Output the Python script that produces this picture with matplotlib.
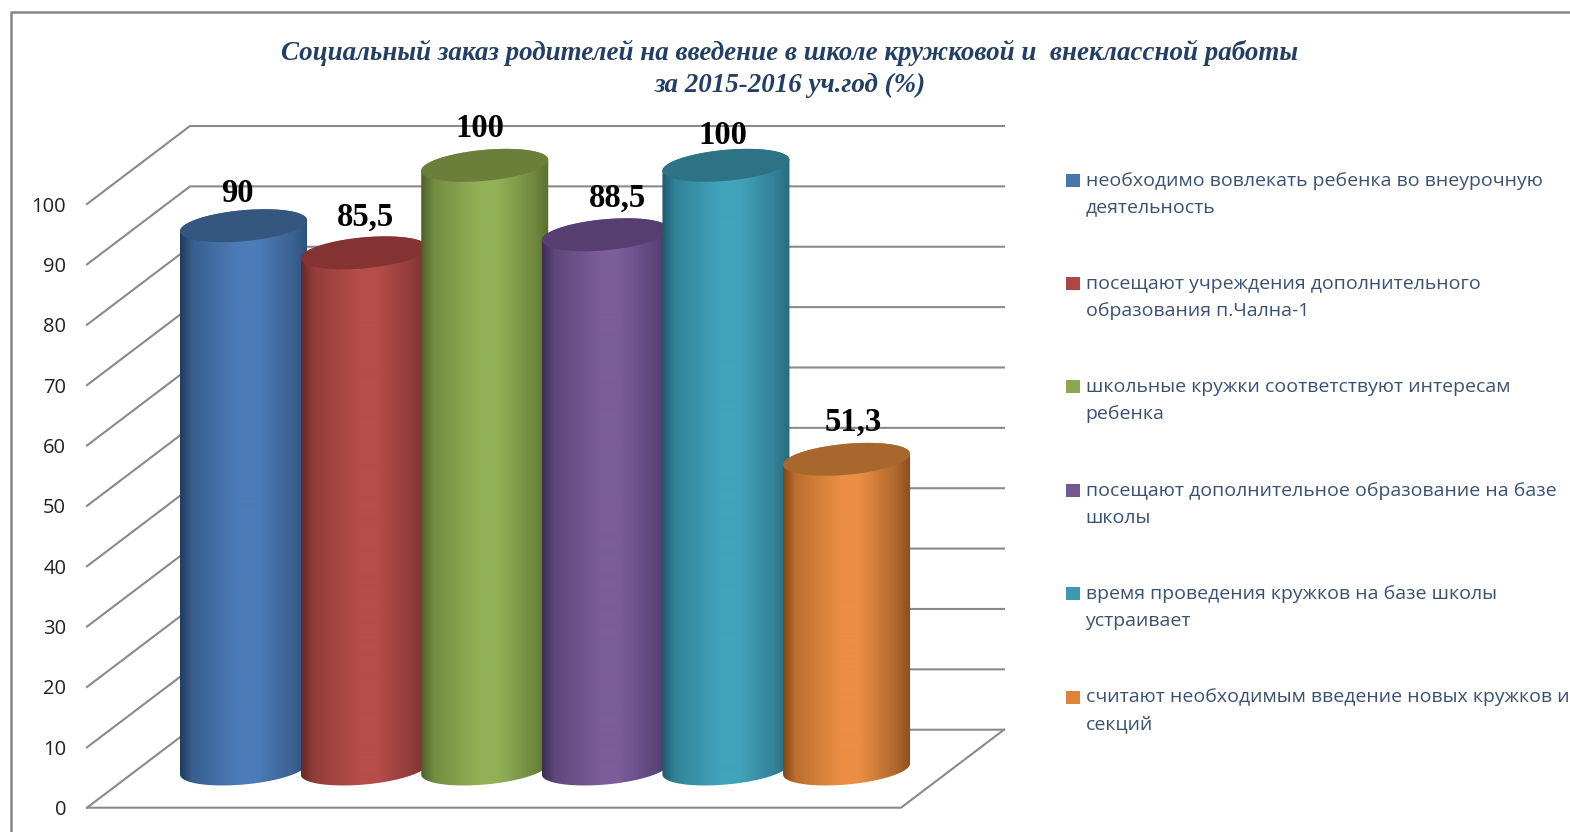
# -*- coding: utf-8 -*-
import matplotlib
matplotlib.use("Agg")
import matplotlib.pyplot as plt
import numpy as np
from matplotlib.colors import LinearSegmentedColormap, to_rgb
from matplotlib.patches import Polygon, Rectangle

title_lines = ["Социальный заказ родителей на введение в школе кружковой и  внеклассной работы",
               "за 2015-2016 уч.год (%)"]
categories = ["необходимо вовлекать ребенка во внеурочную\nдеятельность",
              "посещают учреждения дополнительного\nобразования п.Чална-1",
              "школьные кружки соответствуют интересам\nребенка",
              "посещают дополнительное образование на базе\nшколы",
              "время проведения кружков на базе школы\nустраивает",
              "считают необходимым введение новых кружков и\nсекций"]
values = [90, 85.5, 100, 88.5, 100, 51.3]
y_ticks = [0, 10, 20, 30, 40, 50, 60, 70, 80, 90, 100]

# left edge / middle / right edge / top cap / legend
dark_left = ["#1f3c60", "#682826", "#4d6127", "#3b2c55", "#1d5a6c", "#854816"]
mid = ["#4c7cb8", "#b54d4a", "#92b157", "#7b5d99", "#42a3bc", "#ea8f43"]
dark_right = ["#2f507a", "#75302e", "#5a6f2e", "#4a3767", "#286b7f", "#8a4d20"]
top_cap = ["#34567f", "#843332", "#6b7f3a", "#563f70", "#2e7286", "#a8682d"]
legend_colors = ["#4a76ae", "#ae4744", "#8aa84f", "#74588f", "#3f98b1", "#de8438"]

# hand placed data labels, offset from cap centre in px
label_dx = [-6.5, 1, -5, 12, -3, 6.5]
label_dy = [32, 35.5, 37, 36.5, 29.5, 37.5]

W, H = 1570, 832
PX = 72 / 100
line_c = "#8a8a8a"
text_c = "#3a5272"
title_c = "#243f66"

plt.rcParams['font.family'] = ['Open Sans', 'DejaVu Sans']
fig = plt.figure(figsize=(W / 100, H / 100), dpi=100, facecolor="white")

# axes = front plane of the fake 3d box
ax = fig.add_axes([87 / W, (H - 807.7) / H, 814 / W, 603.7 / H])
ax.patch.set_visible(False)
for s in ax.spines.values():
    s.set_visible(False)

x_min, x_max = -0.874, 5.875
depth_x, depth_y = 0.854, 12.92
bar_depth = 0.496
half_w = 0.5265
cap_h = 2.57
cap_slant = 0.91


def blend(c1, c2, f):
    a, b = np.array(to_rgb(c1)), np.array(to_rgb(c2))
    return tuple(a + (b - a) * f)


# walls and floor
for v in y_ticks:
    ax.plot([x_min, x_min + depth_x, x_max + depth_x], [v, v + depth_y, v + depth_y],
            color=line_c, lw=1.5, clip_on=False, zorder=1)
ax.plot([x_min, x_max, x_max + depth_x], [0, 0, depth_y],
        color=line_c, lw=1.5, clip_on=False, zorder=1)

t = np.linspace(0, np.pi, 60)
for i, v in enumerate(values):
    cx = i + bar_depth * depth_x
    base = bar_depth * depth_y
    top = v + base

    # body outline: front of the base ellipse, then back of the cap ellipse
    ex = cx - half_w * np.cos(t)
    slant = -cap_slant * np.cos(t)
    bulge = cap_h * np.sin(t)
    body_x = np.concatenate([ex, ex[::-1]])
    body_y = np.concatenate([base + slant - bulge, (top + slant + bulge)[::-1]])
    body = Polygon(np.column_stack([body_x, body_y]), closed=True, transform=ax.transData,
                   fc="none", ec="none")

    cmap = LinearSegmentedColormap.from_list(
        "bar%d" % i, [(0, dark_left[i]), (0.1, blend(dark_left[i], mid[i], 0.55)),
                      (0.45, mid[i]), (0.6, mid[i]), (0.88, blend(mid[i], dark_right[i], 0.6)),
                      (1, dark_right[i])])
    img = ax.imshow(np.linspace(0, 1, 256).reshape(1, -1), cmap=cmap, aspect="auto",
                    extent=(cx - half_w, cx + half_w, base - cap_h - cap_slant, top + cap_h + cap_slant),
                    zorder=3 + i)
    img.set_clip_box(fig.bbox)
    img.set_clip_path(body)

    # cap
    tt = np.linspace(0, 2 * np.pi, 120)
    cap = Polygon(np.column_stack([cx - half_w * np.cos(tt),
                                   top - cap_slant * np.cos(tt) + cap_h * np.sin(tt)]),
                  closed=True, fc=top_cap[i], ec="none", zorder=3 + i, clip_on=False)
    ax.add_patch(cap)

    ax.annotate(str(v).replace(".", ","), (cx, top),
                xytext=(label_dx[i] * PX, label_dy[i] * PX), textcoords="offset points",
                ha="center", va="center", fontsize=23.5, fontweight="bold", color="black",
                family="Liberation Serif", zorder=20, annotation_clip=False)

ax.set_xlim(x_min, x_max)
ax.set_ylim(0, 100)
ax.set_xticks([])
ax.set_yticks(y_ticks)
ax.tick_params(axis="y", length=0, pad=15, labelsize=14.5, labelcolor="#222222")

# title
fig.text(790 / W, 1 - 53 / H, title_lines[0], ha="center", va="center", fontsize=19.45,
         family="Liberation Serif", style="italic", fontweight="bold", color=title_c)
fig.text(790 / W, 1 - 85 / H, title_lines[1], ha="center", va="center", fontsize=19.45,
         family="Liberation Serif", style="italic", fontweight="bold", color=title_c)

# legend, first line lines up with the marker
for i, label in enumerate(categories):
    y = 180 + i * 103.4
    fig.add_artist(Rectangle((1066 / W, 1 - (y + 6.5) / H), 13.5 / W, 13 / H,
                             transform=fig.transFigure, fc=legend_colors[i], ec="none"))
    first, second = label.split("\n")
    fig.text(1085.5 / W, 1 - (y + 0.5) / H, first, ha="left", va="center", fontsize=14, color=text_c)
    fig.text(1085.5 / W, 1 - (y + 27.5) / H, second, ha="left", va="center", fontsize=14, color=text_c)

# outer frame runs off the right and bottom of the picture
fig.add_artist(plt.Line2D([11 / W, 11 / W, 1], [0, 1 - 12 / H, 1 - 12 / H],
                          transform=fig.transFigure, color="#868686", lw=1.8))

fig.savefig("out.png", dpi=100)
